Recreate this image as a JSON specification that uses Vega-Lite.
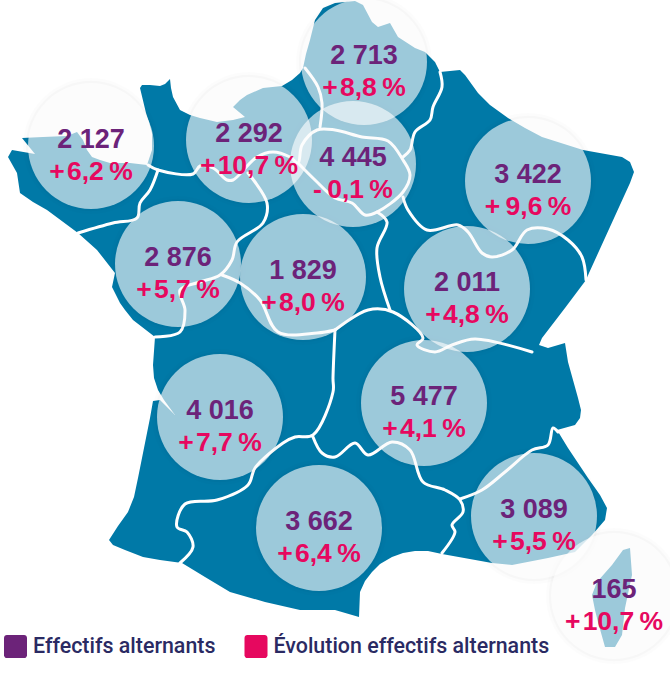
{
"$schema":"https://vega.github.io/schema/vega-lite/v6.json",
"width":670,"height":675,"padding":0,"autosize":"none","background":"white",
"projection":{"type":"identity","scale":1,"translate":[0,0]},
"datasets":{
"regions":[
{"region":"Bretagne","lon":91,"lat":146,"effectif":"2 127","evolution":"+\u200a6,2\u2009%"},
{"region":"Normandie","lon":249,"lat":140,"effectif":"2 292","evolution":"+\u200a10,7\u2009%"},
{"region":"Hauts-de-France","lon":364,"lat":62,"effectif":"2 713","evolution":"+\u200a8,8\u2009%"},
{"region":"Île-de-France","lon":353,"lat":164,"effectif":"4 445","evolution":"-\u20090,1\u2009%"},
{"region":"Grand Est","lon":528,"lat":181,"effectif":"3 422","evolution":"+\u20099,6\u2009%"},
{"region":"Pays de la Loire","lon":178,"lat":264,"effectif":"2 876","evolution":"+\u200a5,7\u2009%"},
{"region":"Centre-Val de Loire","lon":303,"lat":277,"effectif":"1 829","evolution":"+\u200a8,0\u2009%"},
{"region":"Bourgogne-Franche-Comté","lon":467,"lat":289,"effectif":"2 011","evolution":"+\u200a4,8\u2009%"},
{"region":"Nouvelle-Aquitaine","lon":220,"lat":417,"effectif":"4 016","evolution":"+\u200a7,7\u2009%"},
{"region":"Auvergne-Rhône-Alpes","lon":424,"lat":403,"effectif":"5 477","evolution":"+\u200a4,1\u2009%"},
{"region":"Occitanie","lon":319,"lat":528,"effectif":"3 662","evolution":"+\u200a6,4\u2009%"},
{"region":"Provence-Alpes-Côte d'Azur","lon":534,"lat":516,"effectif":"3 089","evolution":"+\u200a5,5\u2009%"},
{"region":"Corse","lon":614,"lat":596,"effectif":"165","evolution":"+\u200a10,7\u2009%"}
]},
"layer":[
{"data":{"values":{"type":"FeatureCollection","features":[{"type":"Feature","properties":{"name":"Corse"},"geometry":{"type":"Polygon","coordinates":[[[630,548],[623,550],[612,565],[597,582],[592,595],[595,610],[598,622],[605,647],[615,647],[622,635],[625,608],[632,575],[630,548]]]}},
{"type":"Feature","properties":{"name":"France"},"geometry":{"type":"Polygon","coordinates":[[[8,157],[12,150],[35,154],[22,138],[43,137],[67,136],[77,132],[83,140],[87,150],[92,157],[100,160],[110,163],[130,163],[147,165],[152,150],[152,133],[149,122],[146,113],[140,88],[142,85],[150,85],[160,86],[165,84],[170,79],[171,88],[173,97],[180,110],[190,115],[200,118],[217,122],[233,120],[245,117],[233,107],[240,100],[247,95],[263,88],[282,86],[292,80],[300,73],[303,68],[306,54],[310,40],[315,20],[323,8],[335,3],[355,1],[363,5],[372,22],[378,27],[390,23],[398,37],[415,48],[425,52],[435,62],[440,72],[460,70],[465,75],[478,93],[490,105],[508,118],[525,128],[542,137],[583,150],[622,157],[630,162],[634,172],[630,183],[589,273],[586,280],[565,308],[542,338],[539,345],[548,348],[565,343],[568,362],[578,398],[581,410],[580,418],[575,425],[557,430],[568,448],[588,478],[600,495],[607,508],[605,520],[592,535],[575,552],[548,558],[512,565],[492,563],[442,554],[428,551],[415,551],[403,553],[392,557],[380,564],[372,572],[365,581],[360,592],[359,617],[335,610],[300,610],[265,602],[230,592],[205,577],[182,563],[160,560],[143,557],[125,550],[113,545],[109,540],[118,526],[128,512],[134,497],[138,478],[150,418],[153,401],[160,400],[175,415],[164,400],[158,390],[154,378],[153,365],[155,337],[133,320],[125,310],[120,303],[112,287],[115,273],[97,250],[78,233],[47,210],[33,202],[20,193],[17,173],[8,157]]]}}]},"format":{"type":"json","property":"features"}},
"mark":{"type":"geoshape","fill":"#0079A7","stroke":null}},
{"data":{"values":[
{"lim":"a","lon":148,"lat":165},{"lim":"a","lon":158,"lat":170},{"lim":"a","lon":193,"lat":174},{"lim":"a","lon":200,"lat":166},{"lim":"a","lon":213,"lat":168},{"lim":"a","lon":227,"lat":180},{"lim":"a","lon":233,"lat":180},{"lim":"a","lon":257,"lat":157},{"lim":"a","lon":273,"lat":152},{"lim":"a","lon":290,"lat":157},{"lim":"a","lon":298,"lat":163},{"lim":"a","lon":302,"lat":145},{"lim":"a","lon":317,"lat":130},{"lim":"a","lon":335,"lat":130},{"lim":"a","lon":362,"lat":137},{"lim":"a","lon":388,"lat":141},{"lim":"a","lon":403,"lat":160},{"lim":"a","lon":410,"lat":175},{"lim":"a","lon":403,"lat":192},{"lim":"a","lon":377,"lat":212},{"lim":"a","lon":365,"lat":215},{"lim":"a","lon":352,"lat":203},{"lim":"a","lon":335,"lat":198},{"lim":"a","lon":315,"lat":180},{"lim":"a","lon":298,"lat":163},
{"lim":"b","lon":305,"lat":68},{"lim":"b","lon":318,"lat":87},{"lim":"b","lon":322,"lat":103},{"lim":"b","lon":320,"lat":127},
{"lim":"c","lon":440,"lat":72},{"lim":"c","lon":442,"lat":87},{"lim":"c","lon":433,"lat":107},{"lim":"c","lon":430,"lat":120},{"lim":"c","lon":415,"lat":132},{"lim":"c","lon":410,"lat":150},{"lim":"c","lon":403,"lat":157},
{"lim":"d","lon":403,"lat":197},{"lim":"d","lon":408,"lat":210},{"lim":"d","lon":427,"lat":230},{"lim":"d","lon":458,"lat":225},{"lim":"d","lon":468,"lat":232},{"lim":"d","lon":482,"lat":253},{"lim":"d","lon":492,"lat":257},{"lim":"d","lon":512,"lat":250},{"lim":"d","lon":527,"lat":230},{"lim":"d","lon":548,"lat":229},{"lim":"d","lon":568,"lat":240},{"lim":"d","lon":582,"lat":257},{"lim":"d","lon":586,"lat":280},
{"lim":"e","lon":377,"lat":212},{"lim":"e","lon":387,"lat":222},{"lim":"e","lon":377,"lat":248},{"lim":"e","lon":380,"lat":277},{"lim":"e","lon":390,"lat":310},
{"lim":"f","lon":335,"lat":330},{"lim":"f","lon":368,"lat":310},{"lim":"f","lon":393,"lat":312},{"lim":"f","lon":423,"lat":338},{"lim":"f","lon":417,"lat":345},{"lim":"f","lon":435,"lat":352},{"lim":"f","lon":452,"lat":345},{"lim":"f","lon":475,"lat":339},{"lim":"f","lon":532,"lat":352},
{"lim":"g","lon":158,"lat":170},{"lim":"g","lon":150,"lat":190},{"lim":"g","lon":140,"lat":203},{"lim":"g","lon":137,"lat":218},{"lim":"g","lon":113,"lat":223},{"lim":"g","lon":78,"lat":233},
{"lim":"h","lon":248,"lat":173},{"lim":"h","lon":267,"lat":203},{"lim":"h","lon":263,"lat":223},{"lim":"h","lon":237,"lat":242},{"lim":"h","lon":232,"lat":260},{"lim":"h","lon":220,"lat":275},{"lim":"h","lon":200,"lat":282},{"lim":"h","lon":180,"lat":290},{"lim":"h","lon":185,"lat":310},{"lim":"h","lon":180,"lat":332},{"lim":"h","lon":155,"lat":337},
{"lim":"i","lon":222,"lat":275},{"lim":"i","lon":240,"lat":283},{"lim":"i","lon":260,"lat":300},{"lim":"i","lon":278,"lat":332},{"lim":"i","lon":317,"lat":333},{"lim":"i","lon":335,"lat":330},
{"lim":"j","lon":335,"lat":330},{"lim":"j","lon":333,"lat":378},{"lim":"j","lon":333,"lat":392},{"lim":"j","lon":313,"lat":435},{"lim":"j","lon":295,"lat":437},{"lim":"j","lon":283,"lat":443},{"lim":"j","lon":255,"lat":468},{"lim":"j","lon":248,"lat":485},{"lim":"j","lon":217,"lat":500},{"lim":"j","lon":185,"lat":504},{"lim":"j","lon":177,"lat":527},{"lim":"j","lon":187,"lat":532},{"lim":"j","lon":193,"lat":547},{"lim":"j","lon":180,"lat":563},
{"lim":"k","lon":313,"lat":437},{"lim":"k","lon":322,"lat":453},{"lim":"k","lon":335,"lat":457},{"lim":"k","lon":355,"lat":443},{"lim":"k","lon":368,"lat":455},{"lim":"k","lon":392,"lat":442},{"lim":"k","lon":410,"lat":450},{"lim":"k","lon":423,"lat":482},{"lim":"k","lon":445,"lat":490},{"lim":"k","lon":460,"lat":500},{"lim":"k","lon":463,"lat":512},{"lim":"k","lon":452,"lat":525},{"lim":"k","lon":455,"lat":532},{"lim":"k","lon":442,"lat":553},
{"lim":"l","lon":460,"lat":499},{"lim":"l","lon":482,"lat":490},{"lim":"l","lon":505,"lat":472},{"lim":"l","lon":532,"lat":450},{"lim":"l","lon":548,"lat":445},{"lim":"l","lon":553,"lat":428},{"lim":"l","lon":558,"lat":432}
]},
"mark":{"type":"line","interpolate":"catmull-rom","stroke":"white","strokeWidth":3,"strokeJoin":"round","strokeCap":"round"},
"encoding":{"longitude":{"field":"lon","type":"quantitative"},"latitude":{"field":"lat","type":"quantitative"},"detail":{"field":"lim"}}},
{"data":{"name":"regions"},"mark":{"type":"circle","size":18500,"fill":"#000","opacity":0.012},"encoding":{"longitude":{"field":"lon","type":"quantitative"},"latitude":{"field":"lat","type":"quantitative"}}},
{"data":{"name":"regions"},"mark":{"type":"circle","size":17000,"fill":"#000","opacity":0.02},"encoding":{"longitude":{"field":"lon","type":"quantitative"},"latitude":{"field":"lat","type":"quantitative"}}},
{"data":{"name":"regions"},"mark":{"type":"circle","size":15876,"fill":"#fff","opacity":0.61},"encoding":{"longitude":{"field":"lon","type":"quantitative"},"latitude":{"field":"lat","type":"quantitative"}}},
{"data":{"name":"regions"},"mark":{"type":"text","font":"Liberation Sans","fontWeight":"bold","fontSize":27,"align":"center","baseline":"alphabetic","dy":2},
"encoding":{"longitude":{"field":"lon","type":"quantitative"},"latitude":{"field":"lat","type":"quantitative"},"text":{"field":"effectif"},
"color":{"datum":"Effectifs alternants","type":"nominal","scale":{"domain":["Effectifs alternants","Évolution effectifs alternants"],"range":["#6C2379","#E6085F"]},
"legend":{"orient":"none","legendX":4,"legendY":635,"title":null,"columns":2,"columnPadding":28.5,"symbolType":"M-0.75,-1H0.75A0.25,0.25 0 0 1 1,-0.75V0.75A0.25,0.25 0 0 1 0.75,1H-0.75A0.25,0.25 0 0 1 -1,0.75V-0.75A0.25,0.25 0 0 1 -0.75,-1Z","symbolSize":529,"symbolStrokeWidth":0,"symbolOpacity":1,"labelFont":"Roboto","labelFontWeight":500,"labelFontSize":21.4,"labelColor":"#2A2A63","labelOffset":6,"labelLimit":400,"padding":0}}}},
{"data":{"name":"regions"},"mark":{"type":"text","font":"Liberation Sans","fontWeight":"bold","fontSize":26.5,"align":"center","baseline":"alphabetic","dy":34},
"encoding":{"longitude":{"field":"lon","type":"quantitative"},"latitude":{"field":"lat","type":"quantitative"},"text":{"field":"evolution"},
"color":{"datum":"Évolution effectifs alternants","type":"nominal"}}}
]
}
